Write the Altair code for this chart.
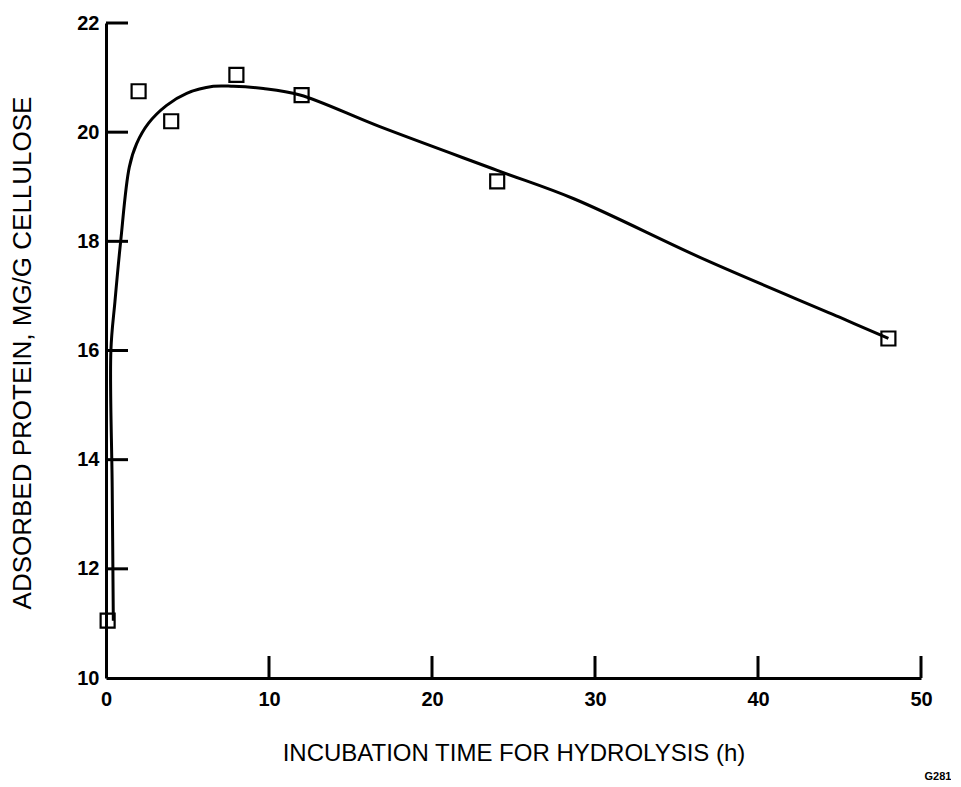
import altair as alt
import pandas as pd

# Measured data points (open squares)
pt_x = [0.1, 2.0, 4.0, 8.0, 12.0, 24.0, 48.0]
pt_y = [11.05, 20.75, 20.2, 21.05, 20.68, 19.1, 16.22]

# Fitted curve
curve_x = [0.45, 0.38, 0.30, 0.55, 0.90, 1.43, 1.88, 2.6, 3.72, 4.95, 6.58, 7.8,
           9.65, 11.9, 16.8, 24.0, 28.7, 36.85, 45.0, 48.0]
curve_y = [11.05, 13.5, 16.0, 16.9, 18.0, 19.36, 19.79, 20.16, 20.49, 20.71, 20.84, 20.84,
           20.80, 20.68, 20.1, 19.3, 18.78, 17.65, 16.61, 16.22]

x_ticks = [0, 10, 20, 30, 40, 50]
y_ticks = [10, 12, 14, 16, 18, 20, 22]
x_inner_ticks = [10, 20, 30, 40, 50]
y_inner_ticks = [12, 14, 16, 18, 20, 22]

x_title = "INCUBATION TIME FOR HYDROLYSIS (h)"
y_title = "ADSORBED PROTEIN, MG/G CELLULOSE"
note = "G281"

W, H = 815, 655
FONT = "Liberation Sans"

pts = pd.DataFrame({"x": pt_x, "y": pt_y})
crv = pd.DataFrame({"x": curve_x, "y": curve_y, "o": list(range(len(curve_x)))})
xt = pd.DataFrame({"x": x_inner_ticks})
yt = pd.DataFrame({"y": y_inner_ticks})
nt = pd.DataFrame({"t": [note]})

xs = alt.Scale(domain=[0, 50], nice=False, zero=False)
ys = alt.Scale(domain=[10, 22], nice=False, zero=False)

x_axis = alt.Axis(values=x_ticks, title=x_title, ticks=False, grid=False,
                  labelPadding=11, labelFlush=False, labelOverlap=False,
                  titleX=W / 2, titleY=75, titleBaseline="middle", titleAlign="center",
                  titleFontSize=24)
y_axis = alt.Axis(values=y_ticks, title=y_title, ticks=False, grid=False,
                  labelPadding=7, labelFlush=False, labelOverlap=False,
                  titleX=-84, titleY=H / 2 + 2, titleAngle=270, titleBaseline="middle",
                  titleAlign="center", titleFontSize=26)

curve = alt.Chart(crv).mark_line(color="black", strokeWidth=3, interpolate="catmull-rom").encode(
    x=alt.X("x:Q", scale=xs, axis=x_axis),
    y=alt.Y("y:Q", scale=ys, axis=y_axis),
    order="o:Q",
)

points = alt.Chart(pts).mark_point(shape="square", filled=False, color="black",
                                   size=196, strokeWidth=2.2, opacity=1).encode(
    x=alt.X("x:Q", scale=xs, axis=x_axis),
    y=alt.Y("y:Q", scale=ys, axis=y_axis),
)

xtick_marks = alt.Chart(xt).mark_rule(color="black", strokeWidth=3).encode(
    x=alt.X("x:Q", scale=xs, axis=x_axis),
    y=alt.value(H),
    y2=alt.value(H - 22),
)

ytick_marks = alt.Chart(yt).mark_rule(color="black", strokeWidth=3).encode(
    y=alt.Y("y:Q", scale=ys, axis=y_axis),
    x=alt.value(0),
    x2=alt.value(22),
)

note_mark = alt.Chart(nt).mark_text(font=FONT, fontSize=11, fontWeight="bold",
                                    color="black", align="center", baseline="middle").encode(
    text="t:N",
    x=alt.value(832),
    y=alt.value(754),
)

chart = alt.layer(curve, points, xtick_marks, ytick_marks, note_mark).properties(
    width=W, height=H,
    padding={"left": 98, "top": 15, "right": 30, "bottom": 106},
    autosize=alt.AutoSizeParams(type="none"),
).configure_view(stroke=None).configure_axis(
    domainColor="black", domainWidth=3,
    labelFont=FONT, labelFontSize=20, labelFontWeight="bold", labelColor="black",
    titleFont=FONT, titleFontWeight="normal", titleColor="black",
)

chart.save("out.html", embed_options={"renderer": "svg", "actions": False})
